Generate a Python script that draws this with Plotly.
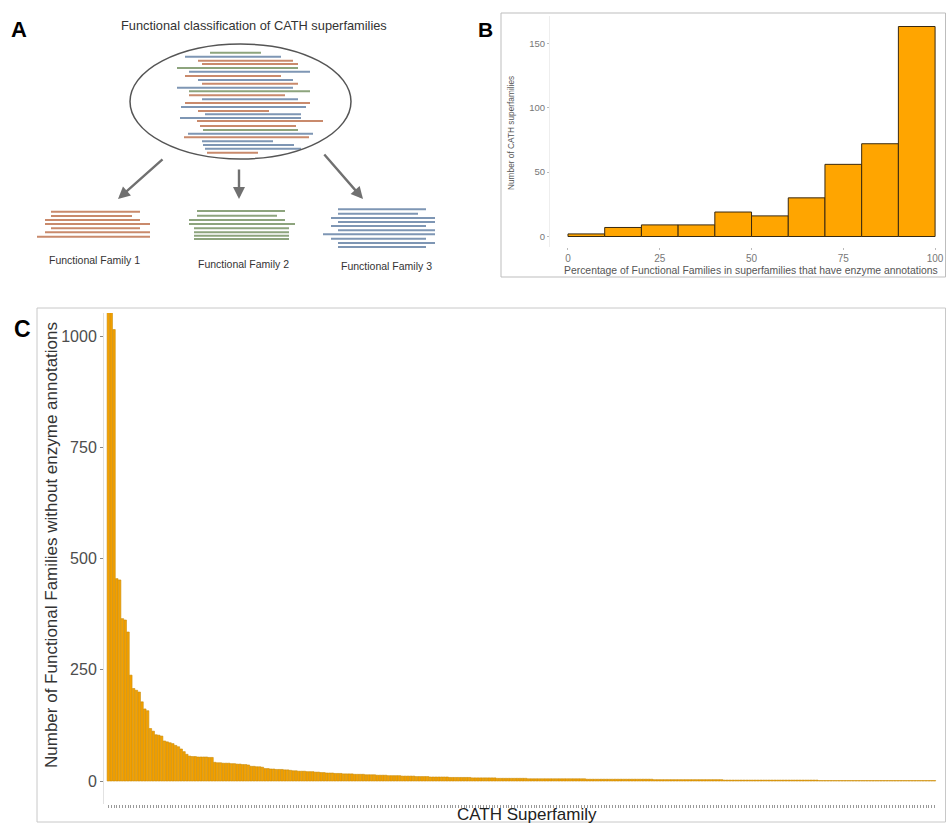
import plotly.graph_objects as go

W, H = 946, 824

# ---------------- Panel B data (histogram) ----------------
b_bin_centers = [5, 15, 25, 35, 45, 55, 65, 75, 85, 95]
b_counts = [2, 7, 9, 9, 19, 16, 30, 56, 72, 163]
b_xticks = [0, 25, 50, 75, 100]
b_yticks = [0, 50, 100, 150]

# ---------------- Panel C data (sorted bars) ----------------
c_values = [
    1180, 1090, 1015, 455, 452, 365, 362, 335, 238, 208,
    204, 200, 178, 162, 158, 118, 112, 104, 103, 101,
    90, 88, 86, 84, 80, 77, 72, 66, 60, 56,
    55, 55, 54, 54, 54, 54, 53, 53,
    42, 41, 41, 40, 40, 40, 39, 39, 38, 38, 37, 37, 36,
    33, 33, 32, 32, 31,
    28, 28, 27, 27, 26, 26, 26, 25, 25, 24,
    23, 23, 22, 22, 22, 21, 21, 21, 20, 20, 19, 19,
    18, 18, 18, 17, 17, 17, 16, 16, 16, 16, 15, 15, 15, 15, 14, 14, 14, 14,
    13, 13, 13, 13, 12, 12, 12, 12, 12, 11, 11, 11, 11, 11, 10, 10, 10, 10,
    10, 9, 9, 9, 9, 9, 9, 9, 8, 8, 8, 8, 8, 8, 8, 8, 7, 7, 7, 7, 7, 7, 7, 7,
    7, 6, 6, 6, 6, 6, 6, 6, 6, 6, 6, 6, 5,
    5, 5, 5, 5, 5, 5, 5, 5, 5, 5, 5, 5, 5, 5, 5, 5, 5, 5, 5, 5,
    4, 4, 4, 4, 4, 4, 4, 4, 4, 4, 4, 4, 4, 4, 4, 4, 4, 4, 4, 4,
    4, 4, 4, 4, 3, 3, 3, 3, 3, 3, 3, 3, 3, 3,
    3, 3, 3, 3, 3, 3, 3, 3, 3, 3, 3, 3, 3, 3, 3,
    2, 2, 2, 2, 2, 2, 2, 2, 2, 2, 2, 2, 2, 2, 2, 2, 2, 2, 2, 2, 2, 2, 2, 2,
    2, 2, 2, 2, 2, 2, 2, 2, 2, 2,
    1, 1, 1, 1, 1, 1, 1, 1, 1, 1, 1, 1, 1, 1, 1, 1, 1, 1, 1, 1, 1,
    1, 1, 1, 1, 1, 1, 1, 1, 1, 1, 1, 1, 1, 1, 1, 1, 1, 1, 1, 1, 1,
]
c_superfamilies = list(range(len(c_values)))
c_yticks = [0, 250, 500, 750, 1000]

# ---------------- Panel A diagram data ----------------
# sequences in the superfamily ellipse: row, start, end, colour key
sf_row = [52.7, 56.7, 60.7, 64, 68, 71.7, 76, 80, 83.7, 87.7, 91.3, 95.3, 99.3, 103,
          107, 111, 114.3, 118, 121, 126, 130, 133.7, 137.3, 141.3, 145, 148.7, 152.7]
sf_start = [210, 185, 198, 202, 177, 189, 185, 198, 202, 177, 189, 189, 202, 185,
            181, 198, 205, 180, 197, 200, 203, 188, 184, 202, 203, 205, 207]
sf_end = [261, 281, 293, 298, 298, 310, 281, 293, 298, 293, 310, 285, 298, 310,
          306, 269, 301, 301, 323, 296, 298, 313, 309, 273, 294, 301, 258]
sf_col = ["g", "b", "o", "o", "g", "b", "o", "b", "o", "b", "g", "o", "b", "o",
          "b", "o", "b", "b", "o", "o", "g", "b", "o", "b", "b", "b", "o"]

ff1_row = [211.7, 216, 220, 224, 228.3, 232.3, 236.7]
ff1_start = [51, 51, 45, 45, 51, 45, 37]
ff1_end = [140, 132, 140, 150, 140, 150, 150]

ff2_row = [211, 215.7, 220, 224, 228.3, 232.3, 235.7, 239]
ff2_start = [197, 197, 189, 189, 194, 194, 194, 194]
ff2_end = [285, 277, 285, 295, 289, 289, 289, 289]

ff3_row = [209.3, 213.7, 218, 222, 226, 230.3, 234.3, 238.7, 243, 247]
ff3_start = [338, 338, 331, 338, 331, 338, 323, 331, 338, 338]
ff3_end = [426, 418, 435, 435, 426, 435, 435, 426, 435, 426]

family_labels = ["Functional Family 1", "Functional Family 2", "Functional Family 3"]

COL = {"o": "#C98A6C", "b": "#7E96B4", "g": "#8DA47D"}


def px(x):
    return x / W


def py(y):
    return 1 - y / H


fig = go.Figure()

# ---- Panel A traces ----
def seg_trace(rows, starts, ends, color):
    xs, ys = [], []
    for r, s, e in zip(rows, starts, ends):
        xs += [s, e, None]
        ys += [r, r, None]
    return go.Scatter(x=xs, y=ys, mode="lines", line=dict(color=color, width=2),
                      xaxis="x3", yaxis="y3", showlegend=False, hoverinfo="skip")


for key in ["o", "b", "g"]:
    idx = [i for i, c in enumerate(sf_col) if c == key]
    fig.add_trace(seg_trace([sf_row[i] for i in idx], [sf_start[i] for i in idx],
                            [sf_end[i] for i in idx], COL[key]))
fig.add_trace(seg_trace(ff1_row, ff1_start, ff1_end, COL["o"]))
fig.add_trace(seg_trace(ff2_row, ff2_start, ff2_end, COL["g"]))
fig.add_trace(seg_trace(ff3_row, ff3_start, ff3_end, COL["b"]))

# ---- Panel B ----
fig.add_trace(go.Bar(x=b_bin_centers, y=b_counts, width=10, xaxis="x2", yaxis="y2",
                     marker=dict(color="#FFA500", line=dict(color="#3a2a10", width=1)),
                     showlegend=False))

# ---- Panel C ----
fig.add_trace(go.Bar(x=c_superfamilies, y=c_values, xaxis="x", yaxis="y",
                     marker=dict(color="#F4A100", line=dict(color="#C98C08", width=0.6)),
                     showlegend=False))

font_main = "Liberation Sans, Arial, sans-serif"

fig.update_layout(
    width=W, height=H,
    margin=dict(l=0, r=0, t=0, b=0),
    paper_bgcolor="white", plot_bgcolor="white",
    bargap=0.1,
    font=dict(family=font_main),
    xaxis=dict(domain=[px(104), px(940)], range=[-1.57, 297], showgrid=False, zeroline=False,
               tickmode="array", tickvals=c_superfamilies, showticklabels=False,
               ticks="outside", ticklen=3, tickcolor="#9a9a9a", tickwidth=0.6,
               showline=False),
    yaxis=dict(domain=[py(804), py(313)], range=[-51.7, 1052.2], showgrid=False, zeroline=False,
               tickmode="array", tickvals=c_yticks, ticks="outside", ticklen=3,
               tickcolor="#888", tickfont=dict(size=16, color="#4d4d4d", family=font_main),
               showline=True, linecolor="#e2e2e2", linewidth=1),
    xaxis2=dict(domain=[px(550), px(945)], range=[-4.9, 102.7], anchor="y2", showgrid=False,
                zeroline=False, tickmode="array", tickvals=b_xticks, ticks="outside",
                ticklen=2, tickcolor="#bbb",
                tickfont=dict(size=10, color="#777", family=font_main)),
    yaxis2=dict(domain=[py(247), py(16)], range=[-8.15, 171.15], anchor="x2", showgrid=False,
                zeroline=False, tickmode="array", tickvals=b_yticks, ticks="outside",
                ticklen=2, tickcolor="#bbb", showline=True, linecolor="#eeeeee",
                tickfont=dict(size=9.5, color="#777", family=font_main)),
    xaxis3=dict(domain=[0, px(470)], range=[0, 470], anchor="y3", visible=False),
    yaxis3=dict(domain=[py(290), 1], range=[290, 0], anchor="x3", visible=False),
)

shapes = [
    # ellipse in panel A
    dict(type="circle", xref="x3", yref="y3", x0=130, x1=351, y0=44, y1=159,
         line=dict(color="#555555", width=1.5)),
    # panel B frame
    dict(type="rect", xref="paper", yref="paper", x0=px(501), x1=px(945.5), y0=py(277), y1=py(13),
         line=dict(color="#bdbdbd", width=1)),
    # panel C frame
    dict(type="rect", xref="paper", yref="paper", x0=px(37), x1=px(945.5), y0=py(822), y1=py(308),
         line=dict(color="#c8c8c8", width=1)),
]
fig.update_layout(shapes=shapes)


def text_ann(text, x, y, size, color, angle=0):
    return dict(text=text, x=px(x), y=py(y), xref="paper", yref="paper", showarrow=False,
                xanchor="center", yanchor="middle", textangle=angle,
                font=dict(size=size, color=color, family=font_main))


ann = []
# panel letters
ann.append(text_ann("<b>A</b>", 19, 30, 22, "black"))
ann.append(text_ann("<b>B</b>", 485, 30, 21, "black"))
ann.append(text_ann("<b>C</b>", 22, 329, 23, "black"))
# panel A title and labels
ann.append(text_ann("Functional classification of CATH superfamilies", 254, 26, 12.8, "#333"))
for lab, (lx, ly) in zip(family_labels, [(94, 260), (243, 264), (386, 266)]):
    ann.append(text_ann(lab, lx, ly, 10.5, "#333"))
# arrows in panel A
for (sx, sy, ex, ey) in [(164, 158, 118, 199), (239, 168, 239, 199), (323, 153, 363, 199)]:
    ann.append(dict(x=ex, y=ey, ax=sx, ay=sy, xref="x3", yref="y3", axref="x3", ayref="y3",
                    text="", showarrow=True, arrowhead=2, arrowsize=1, arrowwidth=2.4,
                    arrowcolor="#707070"))
# panel B axis titles
ann.append(text_ann("Percentage of Functional Families in superfamilies that have enzyme annotations",
                    751, 270, 10.4, "#555"))
ann.append(text_ann("Number of CATH superfamilies", 511, 133, 8.3, "#555", -90))
# panel C axis titles
ann.append(text_ann("CATH Superfamily", 527, 814, 17, "#222"))
ann.append(text_ann("Number of Functional Families without enzyme annotations", 51, 545, 17,
                    "#333", -90))
fig.update_layout(annotations=ann)

fig.write_html("out.html", config={"displayModeBar": False},
               post_script="document.body.style.margin='0';")
